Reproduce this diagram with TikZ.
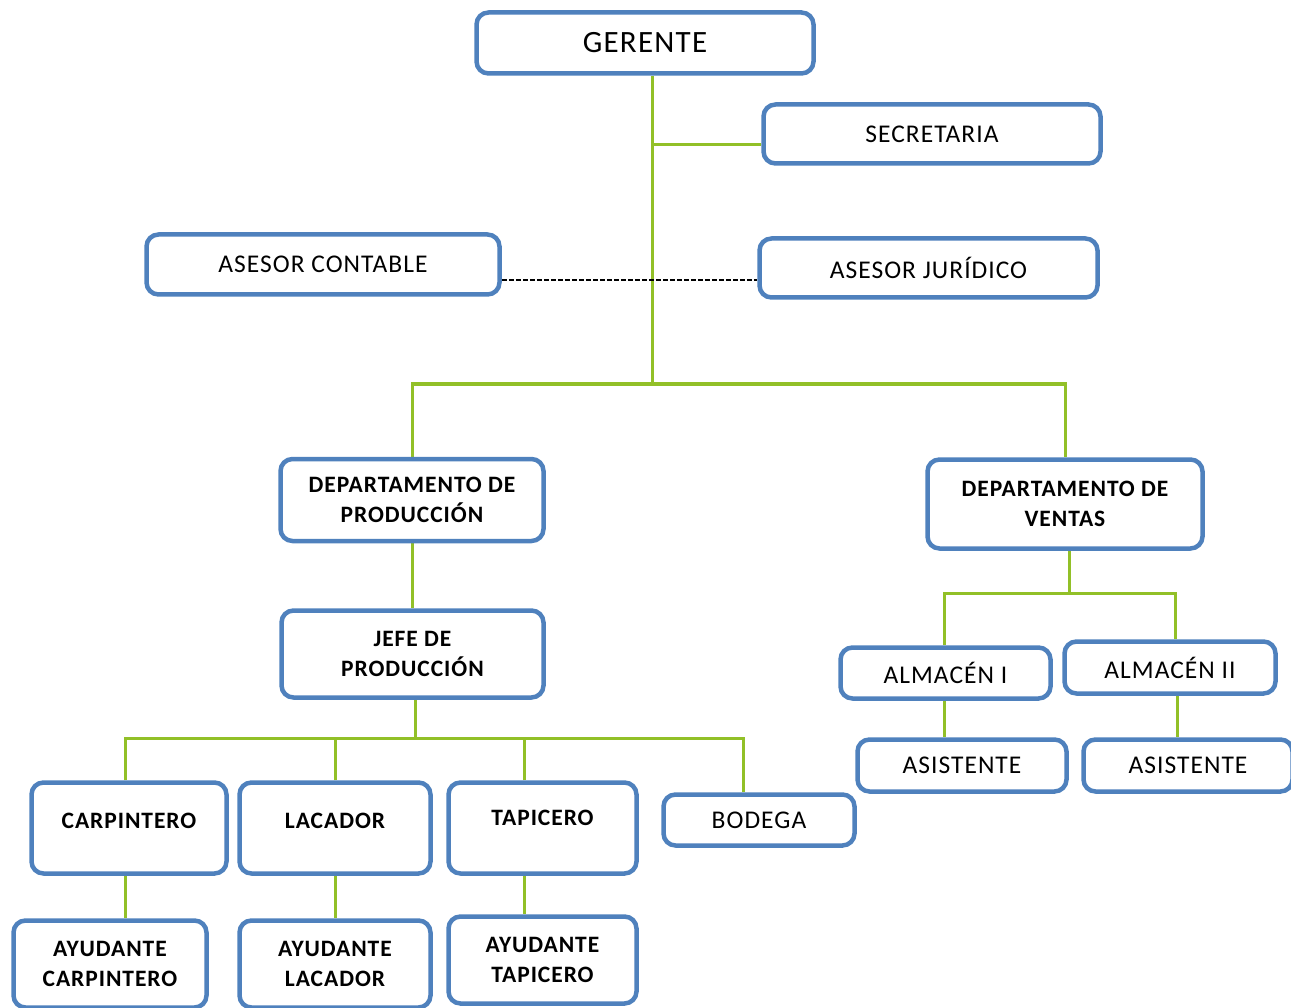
\documentclass[tikz,border=0pt]{standalone}
\usepackage{fontspec}
\setmainfont{Carlito}[LetterSpace=4]
\usetikzlibrary{backgrounds}
\definecolor{boxblue}{RGB}{79,129,189}
\definecolor{linegreen}{RGB}{146,192,40}
\tikzset{
    box/.style={draw=boxblue, line width=4.5pt, rounded corners=12pt, fill=white,
        align=center, inner sep=0pt, font=\fontsize{25.5}{30}\selectfont},
    small/.style={font=\fontsize{23.5}{30}\selectfont\bfseries},
    conn/.style={draw=linegreen, line width=3pt},
}
\begin{document}
\begin{tikzpicture}[x=1pt, y=-1pt]
        \useasboundingbox (0,0) rectangle (1291,1008);
        \clip (0,0) rectangle (1291,1008);

        % top
        \node[box, minimum width=337, minimum height=61, font=\fontsize{31}{34}\selectfont] (ger) at (645,43) {GERENTE};
        \node[box, minimum width=337, minimum height=59] (sec) at (932,134) {SECRETARIA};
        \node[box, minimum width=353, minimum height=60] (ascont) at (323,264.5) {ASESOR CONTABLE};
        \node[box, minimum width=338, minimum height=59] (asjur) at (928.5,268) {ASESOR JUR\'IDICO};

        % departamentos
        \node[box, small, minimum width=263, minimum height=82] (dprod) at (412,500) {DEPARTAMENTO DE\\PRODUCCI\'ON};
        \node[box, small, minimum width=275, minimum height=89] (dvent) at (1065,504) {DEPARTAMENTO DE\\VENTAS};
        \node[box, small, minimum width=262, minimum height=87] (jefe) at (412.5,654) {JEFE DE\\PRODUCCI\'ON};

        % ventas
        \node[box, minimum width=210, minimum height=51] (alm1) at (945.5,673) {ALMAC\'EN I};
        \node[box, minimum width=211, minimum height=52] (alm2) at (1170,667.5) {ALMAC\'EN II};
        \node[box, minimum width=209, minimum height=52] (asis1) at (962,765.5) {ASISTENTE};
        \node[box, minimum width=209, minimum height=52] (asis2) at (1188,765.5) {ASISTENTE};

        % produccion
        \node[box, minimum width=191, minimum height=51] (bod) at (759,820) {BODEGA};
        \node[box, small, minimum width=195, minimum height=91] (carp) at (129,828) {\raisebox{15pt}{CARPINTERO}};
        \node[box, small, minimum width=191, minimum height=91] (laca) at (335,828) {\raisebox{15pt}{LACADOR}};
        \node[box, small, minimum width=188, minimum height=91] (tapi) at (542.5,828) {\raisebox{21pt}{TAPICERO}};
        \node[box, small, minimum width=193, minimum height=87] (aycarp) at (110,964) {AYUDANTE\\CARPINTERO};
        \node[box, small, minimum width=191, minimum height=87] (aylac) at (335,964) {AYUDANTE\\LACADOR};
        \node[box, small, minimum width=188, minimum height=87] (aytap) at (542.5,960) {AYUDANTE\\TAPICERO};

        \coordinate (hub) at (652,384);
        \coordinate (jbus) at (415,738);
        \coordinate (vbus) at (1069,593);

        \begin{scope}[on background layer]
            \draw[conn] ([xshift=7pt]ger.south) -- (hub);
            \draw[conn] ([yshift=-11pt]sec.west) -- ([yshift=-11pt]sec.west -| hub);
            \draw[line width=2pt, dash pattern=on 5pt off 2pt] ([yshift=-15.5pt]ascont.east) -- ([yshift=-15.5pt]ascont.east -| asjur.west);
            \draw[conn] (dprod.north) |- (hub) -| (dvent.north);
            \draw[conn] (dprod.south) -- (dprod.south |- jefe.north);

            \draw[conn] (jefe.south -| jbus) -- (jbus);
            \draw[conn] ([xshift=-4pt]carp.north) |- (jbus) -| ([xshift=-16pt]bod.north);
            \draw[conn] (laca.north) -- (laca.north |- jbus);
            \draw[conn] ([xshift=-18pt]tapi.north) -- ([xshift=-18pt]tapi.north |- jbus);
            \draw[conn] ([xshift=-4pt]carp.south) -- ([xshift=-4pt]carp.south |- aycarp.north);
            \draw[conn] (laca.south) -- (laca.south |- aylac.north);
            \draw[conn] ([xshift=-18pt]tapi.south) -- ([xshift=-18pt]tapi.south |- aytap.north);

            \draw[conn] ([xshift=4pt]dvent.south) -- (vbus);
            \draw[conn] ([xshift=-1.5pt]alm1.north) |- (vbus) -| ([xshift=5pt]alm2.north);
            \draw[conn] ([xshift=-1.5pt]alm1.south) -- ([xshift=-1.5pt]alm1.south |- asis1.north);
            \draw[conn] ([xshift=7pt]alm2.south) -- ([xshift=7pt]alm2.south |- asis2.north);
        \end{scope}
    \end{tikzpicture}
\end{document}
